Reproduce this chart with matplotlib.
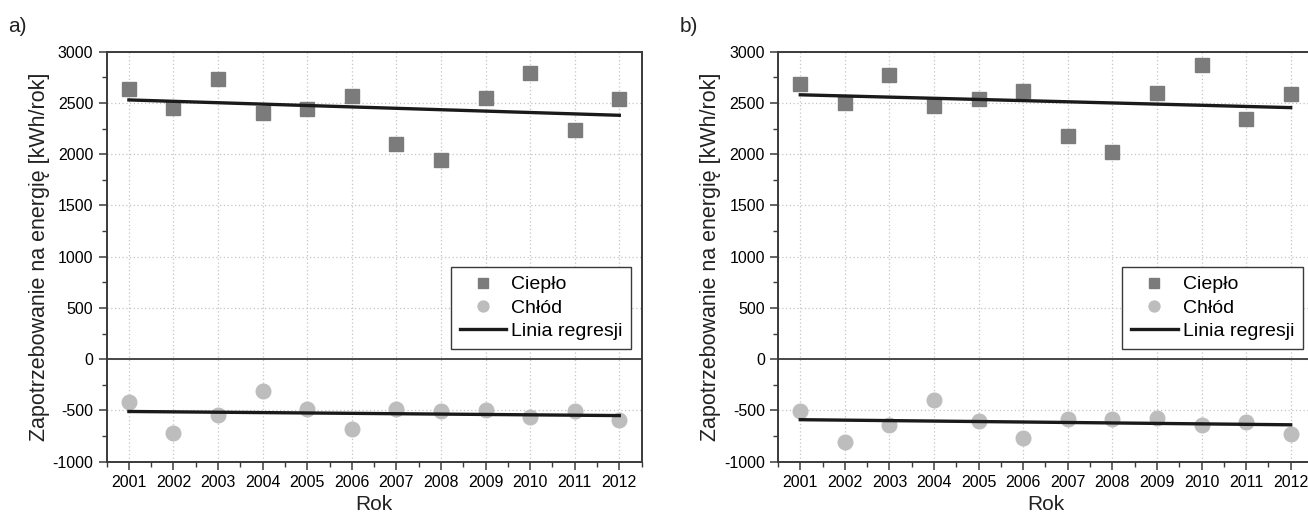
import numpy as np
import matplotlib
matplotlib.use("Agg")
import matplotlib.pyplot as plt
from matplotlib.ticker import MultipleLocator

plt.rcParams['font.family'] = ['Liberation Sans', 'DejaVu Sans']
plt.rcParams['axes.unicode_minus'] = False

# Data
years = [2001, 2002, 2003, 2004, 2005, 2006, 2007, 2008, 2009, 2010, 2011, 2012]

heat_a = [2640, 2450, 2730, 2400, 2440, 2570, 2100, 1940, 2545, 2790, 2235, 2540]
cold_a = [-420, -720, -545, -310, -490, -680, -490, -505, -495, -565, -510, -595]
heat_b = [2690, 2500, 2775, 2470, 2540, 2620, 2175, 2025, 2595, 2870, 2340, 2590]
cold_b = [-505, -810, -645, -395, -605, -765, -580, -580, -575, -640, -615, -730]

# regression line values at first and last year
reg_years = [2001, 2012]
reg_heat_a = [2530, 2380]
reg_cold_a = [-510, -550]
reg_heat_b = [2580, 2455]
reg_cold_b = [-590, -640]

panels = [
    ("a)", heat_a, cold_a, reg_heat_a, reg_cold_a),
    ("b)", heat_b, cold_b, reg_heat_b, reg_cold_b),
]

# -----------------------------
# FIGURE
# -----------------------------
fig = plt.figure(figsize=(13.08, 5.15), dpi=100)
lefts = [0.0815, 0.5948]
frame_col = "#3a3a3a"

for (tag, heat, cold, rh, rc), left in zip(panels, lefts):
    ax = fig.add_axes([left, 0.1035, 0.409, 0.796])

    ax.plot(years, heat, 's', color="#7b7b7b", markersize=10, label="Ciepło", zorder=3)
    ax.plot(years, cold, 'o', color="#bdbdbd", markersize=10.5, label="Chłód", zorder=3)
    ax.plot(reg_years, rh, '-', color="#1a1a1a", lw=2.4, label="Linia regresji", zorder=4)
    ax.plot(reg_years, rc, '-', color="#1a1a1a", lw=2.4, zorder=4)

    ax.axhline(0, color=frame_col, lw=1.3, zorder=2)

    ax.set_xlim(2000.5, 2012.5)
    ax.set_ylim(-1000, 3000)
    ax.set_xticks(years)
    ax.set_yticks(range(-1000, 3001, 500))
    ax.xaxis.set_minor_locator(MultipleLocator(0.5))
    ax.yaxis.set_minor_locator(MultipleLocator(250))
    ax.tick_params(which='both', direction='out', color=frame_col, labelsize=11.5)
    ax.tick_params(which='major', length=6, width=1.1)
    ax.tick_params(which='minor', length=3.5, width=1.0)
    for s in ax.spines.values():
        s.set_color(frame_col)
        s.set_linewidth(1.4)

    ax.grid(True, which='major', linestyle=(0, (1, 2)), color="#c4c4c4", lw=0.9, zorder=0)

    ax.set_xlabel("Rok", fontsize=15, color="#222222", labelpad=4)
    ax.set_ylabel("Zapotrzebowanie na energię [kWh/rok]", fontsize=15.5,
                  color="#222222", labelpad=2)

    leg = ax.legend(loc='lower right', bbox_to_anchor=(0.981, 0.275), fontsize=14,
                    fancybox=False, framealpha=1, edgecolor=frame_col,
                    handlelength=2.4, handletextpad=0.25, markerscale=0.75,
                    borderpad=0.45, labelspacing=0.3, borderaxespad=0)
    leg.get_frame().set_linewidth(1.0)

    fig.text(left - 0.075, 0.948, tag, fontsize=15, color="#222222", va='center')

plt.savefig("out.png", dpi=100)
